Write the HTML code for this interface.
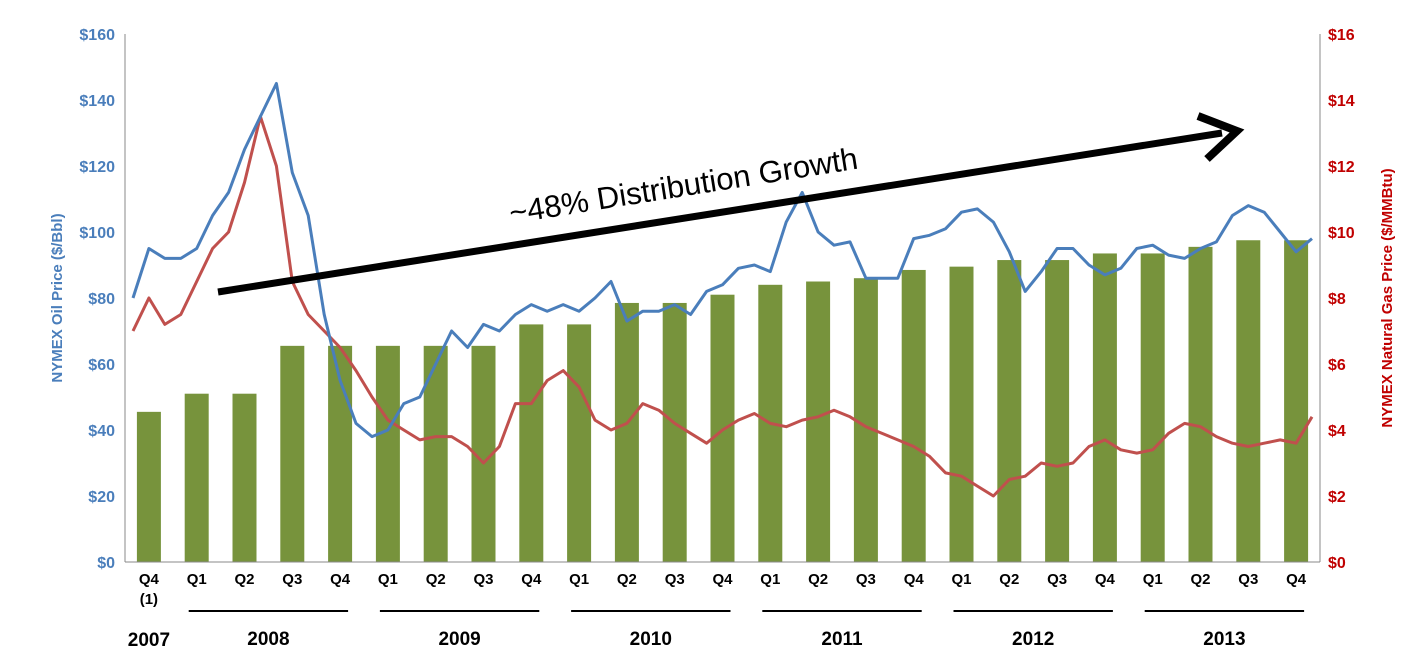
<!DOCTYPE html>
<html><head><meta charset="utf-8"><style>
body{margin:0;background:#fff;}
svg text{font-family:"Liberation Sans",sans-serif;}
</style></head><body>
<svg id="chart" width="1413" height="657" xmlns="http://www.w3.org/2000/svg"></svg>
<script>
const quarters=["Q4","Q1","Q2","Q3","Q4","Q1","Q2","Q3","Q4","Q1","Q2","Q3","Q4","Q1","Q2","Q3","Q4","Q1","Q2","Q3","Q4","Q1","Q2","Q3","Q4"];
const distribution=[45.5,51,51,65.5,65.5,65.5,65.5,65.5,72,72,78.5,78.5,81,84,85,86,88.5,89.5,91.5,91.5,93.5,93.5,95.5,97.5,97.5];
const oilPrice=[80,95,92,92,95,105,112,125,135,145,118,105,75,55,42,38,40,48,50,60,70,65,72,70,75,78,76,78,76,80,85,73,76,76,78,75,82,84,89,90,88,103,112,100,96,97,86,86,86,98,99,101,106,107,103,94,82,88,95,95,90,87,89,95,96,93,92,95,97,105,108,106,100,94,98];
const gasPrice=[7,8,7.2,7.5,8.5,9.5,10,11.5,13.5,12,8.5,7.5,7,6.5,5.8,5,4.3,4,3.7,3.8,3.8,3.5,3,3.5,4.8,4.8,5.5,5.8,5.3,4.3,4,4.2,4.8,4.6,4.2,3.9,3.6,4,4.3,4.5,4.2,4.1,4.3,4.4,4.6,4.4,4.1,3.9,3.7,3.5,3.2,2.7,2.6,2.3,2.0,2.5,2.6,3.0,2.9,3.0,3.5,3.7,3.4,3.3,3.4,3.9,4.2,4.1,3.8,3.6,3.5,3.6,3.7,3.6,4.4];
const leftTicks=["$0","$20","$40","$60","$80","$100","$120","$140","$160"];
const rightTicks=["$0","$2","$4","$6","$8","$10","$12","$14","$16"];
const years=["2008","2009","2010","2011","2012","2013"];

const svg=document.getElementById('chart');
const NS="http://www.w3.org/2000/svg";
const X0=125,X1=1320,Y0=562,Y1=34;
const yL=v=>Y0-(v/160)*(Y0-Y1);
const yR=v=>Y0-(v/16)*(Y0-Y1);
const qStep=(X1-X0)/25;
const xQ=i=>X0+qStep*(i+0.5);
const xM=i=>X0+(X1-X0)*(i+0.5)/oilPrice.length;
function mk(t,a,txt){const e=document.createElementNS(NS,t);for(const k in a)e.setAttribute(k,a[k]);if(txt!==undefined)e.textContent=txt;svg.appendChild(e);return e;}

distribution.forEach((v,i)=>{
  const r=mk('rect',{x:xQ(i)-12,y:yL(v),width:24,height:Y0-yL(v),fill:'#77933C'});
  
  
});
function line(arr,fy,col,name){
  const d=arr.map((v,i)=>(i?'L':'M')+xM(i).toFixed(1)+','+fy(v).toFixed(1)).join('');
  const p=mk('path',{d:d,fill:'none',stroke:col,'stroke-width':3,'stroke-linejoin':'round'});
  
  
}
line(gasPrice,yR,'#C0504D','gas-price-line');
line(oilPrice,yL,'#4A7EBB','oil-price-line');

const ax=mk('line',{x1:X0,y1:Y1,x2:X0,y2:Y0,stroke:'#888','stroke-width':1});

const ax2=mk('line',{x1:X1,y1:Y1,x2:X1,y2:Y0,stroke:'#888','stroke-width':1});

const ax3=mk('line',{x1:X0,y1:Y0,x2:X1,y2:Y0,stroke:'#888','stroke-width':1});


leftTicks.forEach((t,i)=>{
  const e=mk('text',{x:115,y:yL(i*20)+6,'text-anchor':'end','font-size':16,'font-weight':'bold',fill:'#4A7EBB'},t);
  
});
rightTicks.forEach((t,i)=>{
  const e=mk('text',{x:1328,y:yR(i*2)+6,'font-size':16,'font-weight':'bold',fill:'#C00000'},t);
  
});
quarters.forEach((q,i)=>{
  const e=mk('text',{x:xQ(i),y:584,'text-anchor':'middle','font-size':15,'font-weight':'bold',fill:'#000'},q);
  
});
const n1=mk('text',{x:xQ(0),y:604,'text-anchor':'middle','font-size':15,'font-weight':'bold'},'(1)');

const y07=mk('text',{x:xQ(0),y:646,'text-anchor':'middle','font-size':19,'font-weight':'bold'},'2007');

years.forEach((y,i)=>{
  const a=xQ(1+4*i)-8,b=xQ(4+4*i)+8;
  const l=mk('line',{x1:a,y1:611,x2:b,y2:611,stroke:'#000','stroke-width':2});
  
  const e=mk('text',{x:(a+b)/2,y:645,'text-anchor':'middle','font-size':19,'font-weight':'bold'},y);
  
});
const lt=mk('text',{transform:'translate(62,298) rotate(-90)','text-anchor':'middle','font-size':15,'font-weight':'bold',fill:'#4A7EBB'},'NYMEX Oil Price ($/Bbl)');

const rt=mk('text',{transform:'translate(1392,298) rotate(-90)','text-anchor':'middle','font-size':15,'font-weight':'bold',fill:'#C00000'},'NYMEX Natural Gas Price ($/MMBtu)');


const ar=mk('line',{x1:218,y1:292,x2:1222,y2:133,stroke:'#000','stroke-width':7});

const ah=mk('polyline',{points:'1198,116 1237,131 1207,159',fill:'none',stroke:'#000','stroke-width':8,'stroke-linejoin':'miter'});

const gt=mk('text',{transform:'translate(685,196) rotate(-9)','text-anchor':'middle','font-size':31,fill:'#000'},'~48% Distribution Growth');

</script>
</body></html>
